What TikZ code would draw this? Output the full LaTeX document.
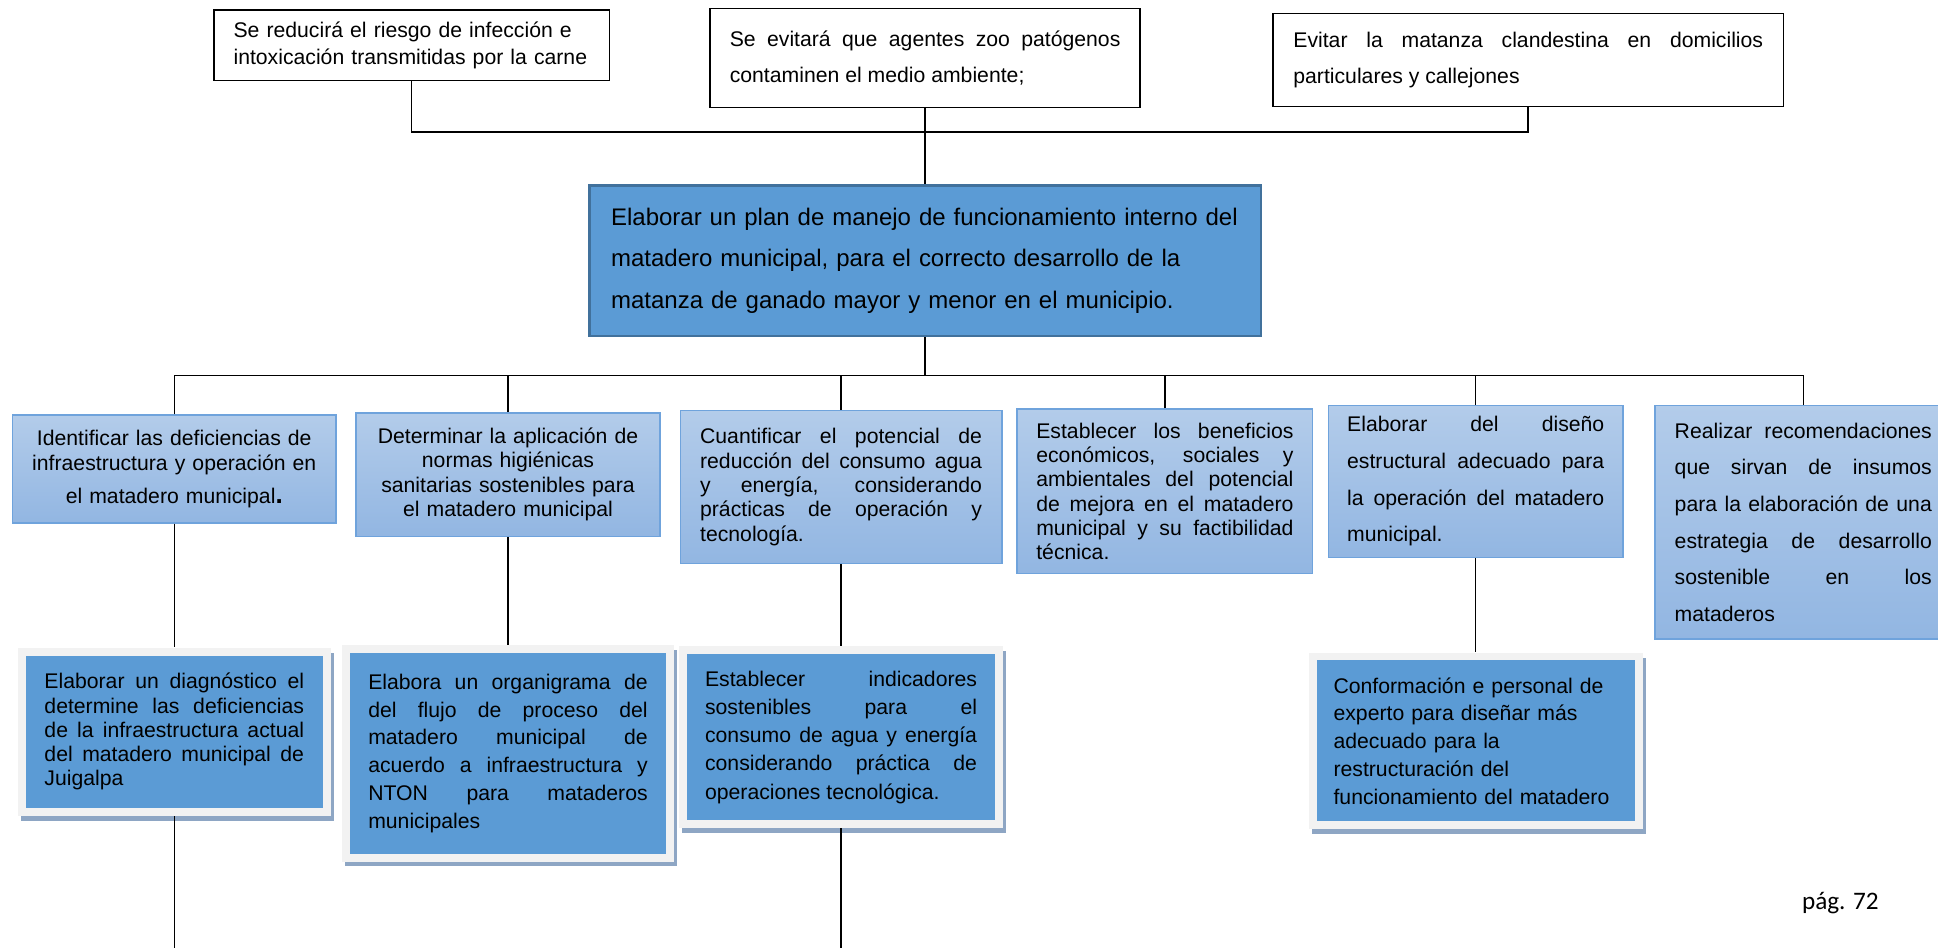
\documentclass[tikz,border=0pt]{standalone}
\usepackage{fontspec}
\setmainfont{Liberation Sans}
\newfontfamily\pagefont{Carlito}
\usetikzlibrary{shadows}

\definecolor{goalblue}{HTML}{5B9BD5}
\definecolor{goaledge}{HTML}{41719C}
\definecolor{aimtop}{HTML}{B3CCEA}
\definecolor{aimbottom}{HTML}{92B6E2}
\definecolor{aimedge}{HTML}{6FA3DC}
\definecolor{framegrey}{HTML}{F2F2F2}
\definecolor{shadowgrey}{HTML}{8EA6C4}

\newcommand{\boxfont}[1]{\fontsize{12.2}{#1}\selectfont}

\begin{document}
\begin{tikzpicture}[x=0.025cm, y=-0.025cm,
    topbox/.style={draw=black, line width=0.9pt, fill=white, inner sep=0.1cm, align=justify},
    goalbox/.style={draw=goaledge, line width=1.3pt, fill=goalblue, inner sep=0.1cm, align=left, font=\fontsize{13.8}{23.9}\selectfont},
    aimbox/.style={draw=aimedge, line width=0.9pt, top color=aimtop, bottom color=aimbottom, inner sep=0.1cm, align=justify},
    actbox/.style={fill=framegrey, inner sep=0.1cm, align=justify,
        drop shadow={shadow xshift=0.06cm, shadow yshift=-0.1cm, fill=shadowgrey, opacity=1},
        path picture={\fill[goalblue] ([shift={(0.16cm,0.16cm)}]path picture bounding box.south west) rectangle ([shift={(-0.16cm,-0.16cm)}]path picture bounding box.north east);}},
    link/.style={line width=0.8pt}]
    \useasboundingbox (0,0) rectangle (1568,767);

    % Resultados esperados
    \node[topbox, align=left, font=\boxfont{15.6}, text width=7.2cm, minimum width=8cm, minimum height=1.425cm] (t1) at (333,36.5)
        {Se reducirá el riesgo de infección e\\intoxicación transmitidas por la carne};
    \node[topbox, font=\boxfont{20.8}, text width=7.9cm, minimum width=8.7cm, minimum height=2cm] (t2) at (748.5,47)
        {Se evitará que agentes zoo patógenos\linebreak contaminen el medio ambiente;};
    \node[topbox, font=\boxfont{20.8}, text width=9.5cm, minimum width=10.325cm, minimum height=1.875cm] (t3) at (1236.5,48.5)
        {Evitar la matanza clandestina en domicilios\linebreak particulares y callejones};

    % Objetivo general
    \node[goalbox, text width=12.7cm, minimum width=13.575cm, minimum height=3.05cm] (goal) at (748.5,211)
        {Elaborar un plan de manejo de funcionamiento interno del\\matadero municipal, para el correcto desarrollo de la\\matanza de ganado mayor y menor en el municipio.};

    \coordinate (topbus) at (748.5,107);
    \draw[line width=1pt] (t1.south) |- (topbus) -| (t3.south);
    \draw[link] (t2.south) -- (goal.north);

    % Objetivos especificos
    \node[aimbox, align=center, font=\boxfont{14.2}, text width=6.1cm, minimum width=6.55cm, minimum height=2.175cm] (c1) at (141,379.5)
        {Identificar las deficiencias de\\infraestructura y operación en\\[5pt]el matadero municipal{\fontsize{15}{15}\selectfont\bfseries .}};
    \node[aimbox, align=center, font=\boxfont{14.1}, text width=5.8cm, minimum width=6.15cm, minimum height=2.5cm] (c2) at (411,384)
        {Determinar la aplicación de\\normas higiénicas\\sanitarias sostenibles para\\el matadero municipal};
    \node[aimbox, font=\boxfont{14}, text width=5.7cm, minimum width=6.5cm, minimum height=3.1cm] (c3) at (680.5,394)
        {Cuantificar el potencial de\linebreak reducción del consumo agua\linebreak y energía, considerando\linebreak prácticas de operación y\linebreak tecnología.};
    \node[aimbox, font=\boxfont{14}, text width=5.2cm, minimum width=5.975cm, minimum height=3.325cm] (c4) at (942.5,397.5)
        {Establecer los beneficios\linebreak económicos, sociales y\linebreak ambientales del potencial\linebreak de mejora en el matadero\linebreak municipal y su factibilidad\linebreak técnica.};
    \node[aimbox, font=\boxfont{21.1}, text width=5.2cm, minimum width=5.95cm, minimum height=3.075cm] (c5) at (1194,389.5)
        {Elaborar del diseño\linebreak estructural adecuado para\linebreak la operación del matadero\linebreak municipal.};
    \node[aimbox, font=\boxfont{21.1}, text width=5.2cm, minimum width=6cm, minimum height=4.725cm] (c6) at (1459,422.5)
        {Realizar recomendaciones\linebreak que sirvan de insumos\linebreak para la elaboración de una\linebreak estrategia de desarrollo\linebreak sostenible en los\linebreak mataderos};

    \coordinate (midbus) at (748.5,304);
    \draw[link] (goal.south) -- (midbus);
    \draw[link] (c1.north) |- (midbus) -| (c6.north);
    \foreach \i in {2,...,5} {
        \draw[link] (c\i.north) -- (c\i.north |- midbus);
    }

    % Actividades
    \node[actbox, font=\boxfont{13.9}, text width=5.25cm, minimum width=6.325cm, minimum height=3.4cm] (d1) at (141,592)
        {Elaborar un diagnóstico el\linebreak determine las deficiencias\linebreak de la infraestructura actual\linebreak del matadero municipal de\linebreak Juigalpa};
    \node[actbox, font=\boxfont{16}, text width=5.65cm, minimum width=6.725cm, minimum height=4.375cm] (d2) at (411,609.5)
        {Elabora un organigrama de\linebreak del flujo de proceso del\linebreak matadero municipal de\linebreak acuerdo a infraestructura y\linebreak NTON para mataderos\linebreak municipales};
    \node[actbox, font=\boxfont{16.2}, text width=5.5cm, minimum width=6.55cm, minimum height=3.675cm] (d3) at (680.5,596.5)
        {Establecer indicadores\linebreak sostenibles para el\linebreak consumo de agua y energía\linebreak considerando práctica de\linebreak operaciones tecnológica.};
    \node[actbox, align=left, font=\boxfont{16}, text width=5.75cm, minimum width=6.75cm, minimum height=3.575cm] (d4) at (1194,599.5)
        {Conformación e personal de\\experto para diseñar más\\adecuado para la\\restructuración del\\funcionamiento del matadero};

    \draw[link] (c1.south) -- (d1.north);
    \draw[link] (c2.south) -- (d2.north);
    \draw[link] (c3.south) -- (d3.north);
    \draw[link] (c5.south) -- (d4.north);
    \coordinate (endA) at (141,767);
    \coordinate (endB) at (680.5,767);
    \draw[link] (d1.south) -- (endA);
    \draw[link] (d3.south) -- (endB);

    % Pie de pagina
    \node[anchor=base, inner sep=0pt, font=\pagefont\fontsize{14.5}{16}\selectfont] (pag) at (1489,736) {pág. 72};
\end{tikzpicture}
\end{document}
